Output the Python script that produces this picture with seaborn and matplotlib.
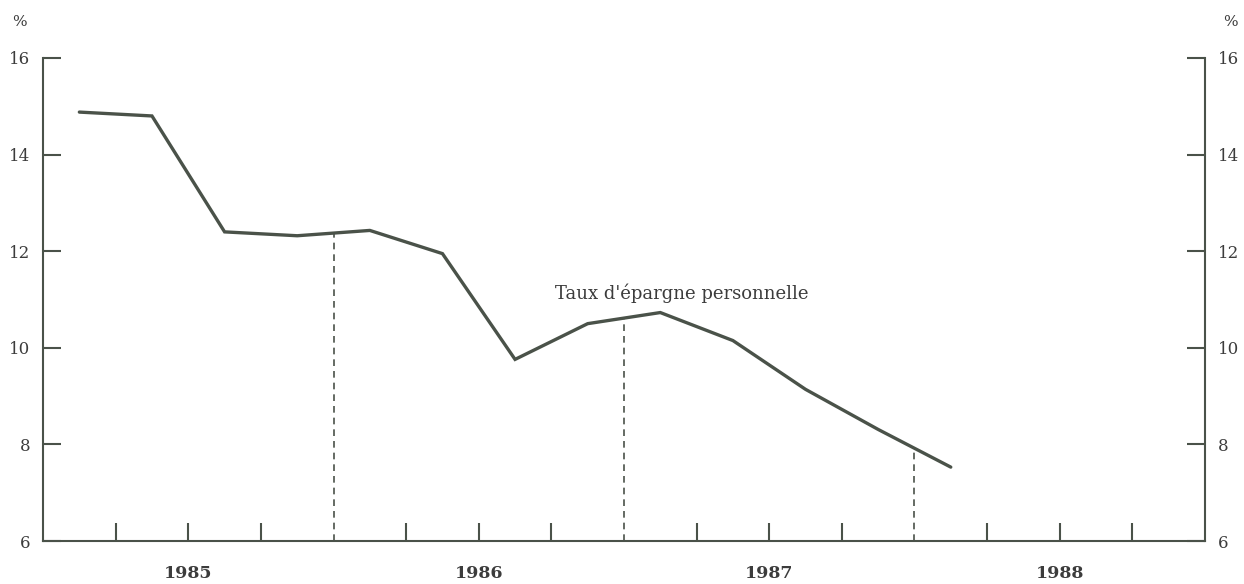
import numpy as np
import pandas as pd
import seaborn as sns
import matplotlib.pyplot as plt

# Quarterly personal savings rate (%), plotted at the middle of each quarter
quarter_mid = [1985.125, 1985.375, 1985.625, 1985.875, 1986.125, 1986.375,
               1986.625, 1986.875, 1987.125, 1987.375, 1987.625, 1987.875,
               1988.125]
savings_rate = [14.88, 14.80, 12.40, 12.32, 12.43, 11.95,
                9.76, 10.50, 10.73, 10.15, 9.14, 8.31,
                7.53]
year_labels = ["1985", "1986", "1987", "1988"]
year_breaks = [1986.0, 1987.0, 1988.0]
y_ticks = [6, 8, 10, 12, 14, 16]
series_label = "Taux d'épargne personnelle"

sns.set_style("white")
plt.rcParams["font.family"] = ["DejaVu Serif"]

ink = "#4a5249"
text_col = "#3c3c3c"

df = pd.DataFrame({"trimestre": quarter_mid, "taux": savings_rate})

fig = plt.figure(figsize=(12.44, 5.84), dpi=100)
ax = fig.add_axes([0.0346, 0.0736, 0.9340, 0.8271])

sns.lineplot(data=df, x="trimestre", y="taux", ax=ax, color=ink,
             linewidth=2.4, solid_joinstyle="miter")

# Dashed drop lines at each year boundary, up to the series
for xb in year_breaks:
    yb = np.interp(xb, quarter_mid, savings_rate)
    ax.plot([xb, xb], [6, yb], color=ink, linewidth=1.2,
            linestyle=(0, (4, 3)))

ax.set_xlim(1985.0, 1989.0)
ax.set_ylim(6, 16)
ax.set_xlabel("")
ax.set_ylabel("")

for side in ["left", "right", "bottom"]:
    ax.spines[side].set_visible(True)
    ax.spines[side].set_color(ink)
    ax.spines[side].set_linewidth(1.5)
ax.spines["top"].set_visible(False)

# Year labels at mid-year; quarter ticks inside the frame
first = int(year_labels[0])
mid_years = [first + i + 0.5 for i in range(len(year_labels))]
quarter_ticks = [first + i + q for i in range(len(year_labels)) for q in (0.25, 0.75)]
ax.set_xticks(mid_years)
ax.set_xticklabels(year_labels, fontsize=12.5, fontweight="bold", color=text_col)
ax.set_xticks(quarter_ticks, minor=True)
ax.tick_params(axis="x", which="both", direction="in", length=13, width=1.5,
               color=ink, pad=17, bottom=True)

ax.set_yticks(y_ticks)
ax.set_yticklabels([str(v) for v in y_ticks], fontsize=12, color=text_col)
ax.tick_params(axis="y", which="both", direction="in", length=13, width=1.5,
               color=ink, pad=9, left=True)

axr = ax.twinx()
axr.set_ylim(6, 16)
axr.set_yticks(y_ticks)
axr.set_yticklabels([str(v) for v in y_ticks], fontsize=12, color=text_col)
axr.tick_params(axis="y", direction="in", length=13, width=1.5, color=ink,
                pad=9, right=True)
for side in ["left", "right", "bottom", "top"]:
    axr.spines[side].set_visible(False)

fig.text(0.016, 0.963, "%", fontsize=11, color=text_col, ha="center", va="center")
fig.text(0.989, 0.963, "%", fontsize=11, color=text_col, ha="center", va="center")

ax.text(1987.20, 11.12, series_label, fontsize=13, color=text_col,
        ha="center", va="center")

fig.savefig("out.png", dpi=100, facecolor="white")
